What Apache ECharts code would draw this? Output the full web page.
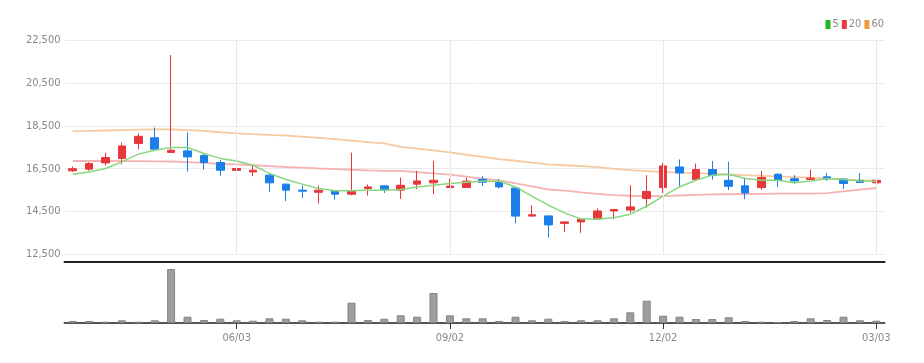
<!DOCTYPE html>
<html>
<head>
<meta charset="utf-8">
<script src="https://cdn.jsdelivr.net/npm/echarts@6/dist/echarts.min.js"></script>
<style>
html,body{margin:0;padding:0;background:#fff;}
#chart{width:924px;height:363px;}
</style>
</head>
<body>
<div id="chart"></div>
<script>
const dates = ['03/25','04/01','04/08','04/15','04/22','04/29','05/06','05/13','05/20','05/27',
  '06/03','06/10','06/17','06/24','07/01','07/08','07/15','07/22','07/29','08/05',
  '08/12','08/19','08/26','09/02','09/09','09/16','09/23','09/30','10/07','10/14',
  '10/21','10/28','11/04','11/11','11/18','11/25','12/02','12/09','12/16','12/23',
  '12/30','01/06','01/13','01/20','01/27','02/03','02/10','02/17','02/24','03/03'];
const tickLabels = ['06/03','09/02','12/02','03/03'];
const openP = [16400,16480,16770,16980,17680,17940,17260,17330,17110,16790,16420,16350,16200,15780,15500,15400,15450,15310,15580,15700,15500,15780,15840,15620,15620,16000,15870,15600,14290,14300,13950,14020,14150,14530,14570,15110,15620,16580,16000,16460,15960,15700,15620,16240,16030,16000,16120,16020,15950,15840];
const closeP = [16500,16740,17020,17560,18010,17410,17360,17050,16790,16430,16510,16430,15840,15500,15450,15500,15310,15450,15650,15510,15730,15930,15960,15690,15920,15870,15650,14290,14350,13880,14020,14150,14530,14600,14720,15440,16630,16300,16460,16180,15680,15370,16090,15960,15930,16060,16030,15810,15860,15960];
const lowP = [16350,16400,16650,16700,17400,17400,17250,16370,16460,16170,16280,16150,15420,14990,15140,14880,15060,15260,15250,15370,15090,15540,15310,15600,15600,15700,15580,13950,14280,13290,13540,13510,14120,14150,14440,14690,15370,15700,15990,16000,15500,15080,15530,15650,15810,15990,15930,15560,15850,15650];
const highP = [16600,16800,17250,17720,18140,18420,21800,18200,17180,16900,16740,16660,16300,15810,15720,15720,15460,17250,15760,15710,16090,16400,16860,16040,16090,16160,16020,15610,14800,14310,14030,14160,14650,14610,15730,16200,16770,16930,16740,16860,16820,16090,16400,16280,16200,16460,16300,16030,16300,16150];
const ma5 = [16240,16350,16510,16820,17180,17360,17490,17490,17210,16980,16860,16660,16280,16000,15780,15580,15470,15470,15500,15500,15530,15650,15730,15810,15870,15920,15920,15650,15220,14800,14440,14150,14150,14210,14380,14750,15220,15650,15960,16200,16240,16040,15960,15960,15840,15930,16040,16000,15930,15920];
const ma20 = [16860,16860,16860,16850,16850,16840,16835,16810,16770,16720,16700,16660,16620,16580,16550,16510,16480,16450,16420,16400,16400,16340,16280,16220,16130,16040,15960,15820,15680,15530,15480,15400,15330,15270,15240,15220,15220,15250,15280,15300,15310,15320,15330,15340,15340,15340,15360,15440,15520,15600];
const ma60 = [18250,18260,18280,18300,18320,18330,18330,18300,18260,18200,18150,18110,18080,18040,18000,17940,17880,17810,17740,17680,17520,17440,17350,17260,17150,17050,16950,16870,16780,16700,16660,16620,16570,16490,16430,16390,16350,16320,16290,16260,16230,16200,16170,16140,16110,16080,16040,16000,15970,15940];
const volume = [20,20,13,27,13,27,540,63,30,43,27,23,47,43,27,13,13,203,30,43,77,63,300,77,47,47,20,63,27,43,20,27,27,47,107,223,73,63,40,40,57,20,13,10,20,47,30,63,27,23];

const candleData = dates.map((d, i) => [openP[i], closeP[i], lowP[i], highP[i]]);
const isTick = (idx, val) => tickLabels.indexOf(val !== undefined ? val : dates[idx]) >= 0;
const FONT = "'Liberation Sans Narrow', 'DejaVu Sans Condensed', 'Liberation Sans', sans-serif";

const chart = echarts.init(document.getElementById('chart'));
chart.setOption({
  animation: false,
  backgroundColor: '#fff',
  legend: {
    data: ['5','20','60'],
    right: 40, top: 19,
    icon: 'rect', itemWidth: 5, itemHeight: 9, itemGap: 3, padding: 0,
    textStyle: { fontSize: 11, color: '#888', fontFamily: FONT, padding: [0,0,0,-3] },
    selectedMode: false
  },
  grid: [
    { left: 64.5, right: 39.5, top: 40, height: 214.5 },
    { left: 64.5, right: 39.5, top: 262, height: 61 }
  ],
  xAxis: [
    { type: 'category', gridIndex: 0, data: dates, boundaryGap: true,
      axisLine: { show: false }, axisTick: { show: false }, axisLabel: { show: false }, splitLine: { show: false } },
    { type: 'category', gridIndex: 1, data: dates, boundaryGap: true,
      axisLine: { lineStyle: { color: '#555', width: 2 } },
      axisTick: { show: true, alignWithLabel: true, interval: (i, v) => isTick(i, v), length: 6, lineStyle: { color: '#333', width: 1 } },
      axisLabel: { interval: (i, v) => isTick(i, v), color: '#888', fontSize: 11, fontFamily: FONT, margin: 10 },
      splitLine: { show: false } },
    { type: 'category', gridIndex: 1, data: dates, position: 'top',
      axisLine: { lineStyle: { color: '#222', width: 2 } },
      axisTick: { show: false }, axisLabel: { show: false } }
  ],
  yAxis: [
    { type: 'value', gridIndex: 0, min: 12500, max: 22500, interval: 2000,
      axisLine: { show: false }, axisTick: { show: false },
      axisLabel: { color: '#888', fontSize: 11, fontFamily: FONT, margin: 4,
        formatter: v => v.toString().replace(/\B(?=(\d{3})+(?!\d))/g, ',') },
      splitLine: { lineStyle: { color: '#ebebeb', width: 1 } } },
    { type: 'value', gridIndex: 1, min: 0, max: 610, show: false, splitLine: { show: false } }
  ],
  series: [
    { type: 'candlestick', name: 'price', xAxisIndex: 0, yAxisIndex: 0, data: candleData, barWidth: 8,
      itemStyle: { color: '#e8373b', color0: '#1a7fe8', borderColor: '#e8373b', borderColor0: '#1a7fe8', borderWidth: 1 },
      markLine: { silent: true, symbol: ['none','none'], label: { show: false },
        lineStyle: { color: '#e8e8e8', width: 1, type: 'solid' },
        data: tickLabels.map(t => ({ xAxis: t })) }
    },
    { type: 'line', name: '5', xAxisIndex: 0, yAxisIndex: 0, data: ma5, showSymbol: false, smooth: false,
      itemStyle: { color: '#22b522' }, lineStyle: { color: '#86d77e', width: 1.5 }, z: 3 },
    { type: 'line', name: '20', xAxisIndex: 0, yAxisIndex: 0, data: ma20, showSymbol: false,
      itemStyle: { color: '#e83a3a' }, lineStyle: { color: '#f6b3b3', width: 1.8 }, z: 1 },
    { type: 'line', name: '60', xAxisIndex: 0, yAxisIndex: 0, data: ma60, showSymbol: false,
      itemStyle: { color: '#f39a3c' }, lineStyle: { color: '#f8c9a0', width: 1.8 }, z: 1 },
    { type: 'bar', name: 'vol', xAxisIndex: 1, yAxisIndex: 1, data: volume, barWidth: 8,
      itemStyle: { color: '#9e9e9e', borderColor: '#848484', borderWidth: 1 } }
  ]
});
</script>
</body>
</html>
